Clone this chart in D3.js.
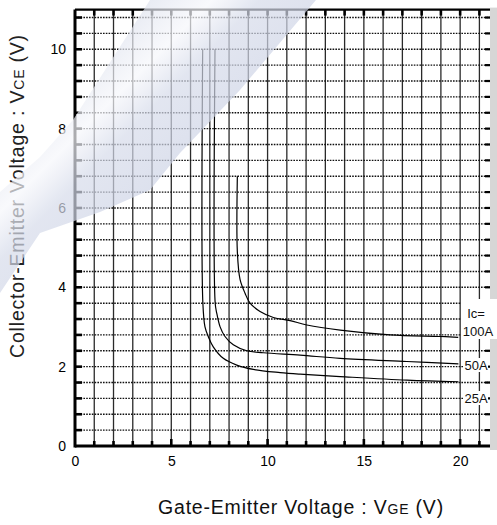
<!DOCTYPE html>
<html>
<head>
<meta charset="utf-8">
<script src="https://cdn.jsdelivr.net/npm/d3@7/dist/d3.min.js"></script>
<style>
  body { margin: 0; background: #fff; }
  svg { display: block; font-family: "Liberation Sans", Arial, sans-serif; }
</style>
</head>
<body>
<svg id="chart" width="497" height="525"></svg>
<script>
// Axis ticks (V)
const vgeTicks = [0, 5, 10, 15, 20];
const vceTicks = [0, 2, 4, 6, 8, 10];

// Collector current labels
const currentLabels = ["Ic=", "100A", "50A", "25A"];

// VCE vs VGE curves, points as [VGE, VCE]
const ic100 = [[8.43, 6.8], [8.43, 4.9], [8.57, 4.2], [8.83, 3.85], [9.09, 3.6], [9.61, 3.39],
  [10.3, 3.24], [11.17, 3.16], [12.04, 3.05], [13.77, 2.92], [16.36, 2.8], [18.96, 2.76], [19.9, 2.74]];
const ic50 = [[7.27, 10], [7.28, 3.6], [7.36, 3.35], [7.53, 3.01], [7.79, 2.76], [8.22, 2.55],
  [8.92, 2.4], [9.78, 2.35], [11.69, 2.29], [13.77, 2.21], [17.23, 2.13], [19.91, 2.07]];
const ic25 = [[6.63, 10], [6.64, 3.6], [6.75, 3.0], [6.92, 2.76], [7.18, 2.5], [7.7, 2.21],
  [8.4, 2.04], [9.26, 1.93], [10.65, 1.85], [11.69, 1.81], [13.77, 1.75], [17.23, 1.66], [19.91, 1.62]];

const svg = d3.select("#chart");
const x = d3.scaleLinear().domain([0, 21.55]).range([75, 490]);
const y = d3.scaleLinear().domain([0, 11]).range([446, 9.6]);

const vgeGrid = d3.range(1, 22);
const vceGrid = d3.range(1, 28).map(k => +(k * 0.4).toFixed(1));

// Grid
const grid = svg.append("g");
grid.selectAll("line.v").data(vgeGrid).join("line")
  .attr("x1", d => x(d)).attr("x2", d => x(d))
  .attr("y1", y(0)).attr("y2", y(11))
  .attr("stroke", "#2a2a2a").attr("stroke-width", 1.3);
grid.selectAll("line.h").data(vceGrid).join("line")
  .attr("x1", x(0)).attr("x2", x(21.55))
  .attr("y1", d => y(d)).attr("y2", d => y(d))
  .attr("stroke", "#111").attr("stroke-width", 1.4)
  .attr("stroke-dasharray", "1.6,1.2");

// Inward tick marks on all four sides
const tickG = svg.append("g").attr("stroke", "#000");
tickG.selectAll("line.l").data(vceGrid).join("line")
  .attr("x1", x(0)).attr("x2", x(0) + 7)
  .attr("y1", d => y(d)).attr("y2", d => y(d)).attr("stroke-width", 2.6);
tickG.selectAll("line.r").data(vceGrid).join("line")
  .attr("x1", x(21.55) - 5).attr("x2", x(21.55))
  .attr("y1", d => y(d)).attr("y2", d => y(d)).attr("stroke-width", 2.2);
tickG.selectAll("line.b").data(vgeGrid).join("line")
  .attr("x1", d => x(d)).attr("x2", d => x(d))
  .attr("y1", y(0)).attr("y2", d => y(0) - (d % 5 === 0 ? 7 : 5)).attr("stroke-width", 2.6);
tickG.selectAll("line.t").data(vgeGrid).join("line")
  .attr("x1", d => x(d)).attr("x2", d => x(d))
  .attr("y1", y(11)).attr("y2", y(11) + 6).attr("stroke-width", 2.6);

// Frame
svg.append("line").attr("x1", x(0)).attr("x2", x(0)).attr("y1", y(11)).attr("y2", y(0) + 1.5)
  .attr("stroke", "#000").attr("stroke-width", 3);
svg.append("line").attr("x1", x(0)).attr("x2", x(21.55)).attr("y1", y(0)).attr("y2", y(0))
  .attr("stroke", "#000").attr("stroke-width", 3);
svg.append("line").attr("x1", x(0)).attr("x2", x(21.55)).attr("y1", y(11)).attr("y2", y(11))
  .attr("stroke", "#000").attr("stroke-width", 2.2);
svg.append("rect").attr("x", x(21.55)).attr("y", y(11) - 2).attr("width", 8).attr("height", y(0) - y(11) + 6)
  .attr("fill", "#d6d6d6");

// Label backgrounds for the Ic legend
const labelY = [313, 331, 365, 398];
svg.append("rect").attr("x", 461).attr("y", 299).attr("width", 36).attr("height", 40).attr("fill", "#fff");
svg.selectAll("rect.lb").data(currentLabels.slice(2)).join("rect")
  .attr("x", 463).attr("y", (d, i) => labelY[i + 2] - 7).attr("width", 25).attr("height", 14).attr("fill", "#fff");

// Curves
const line = d3.line().x(d => x(d[0])).y(d => y(d[1])).curve(d3.curveCatmullRom.alpha(0.5));
svg.append("g").selectAll("path").data([ic100, ic50, ic25]).join("path")
  .attr("d", line).attr("fill", "none").attr("stroke", "#000").attr("stroke-width", 1.2);

// Ic labels
svg.append("g").attr("font-size", 13).attr("fill", "#111")
  .selectAll("text").data(currentLabels).join("text")
  .attr("x", (d, i) => i === 1 ? 478 : 476).attr("y", (d, i) => labelY[i])
  .attr("text-anchor", "middle").attr("dominant-baseline", "central")
  .text(d => d);

// Tick labels
const yAxis = svg.append("g").attr("transform", `translate(${x(0)},0)`)
  .call(d3.axisLeft(y).tickValues(vceTicks).tickSize(0).tickPadding(9).tickFormat(d3.format("d")));
const xAxis = svg.append("g").attr("transform", `translate(0,${y(0)})`)
  .call(d3.axisBottom(x).tickValues(vgeTicks).tickSize(0).tickPadding(10).tickFormat(d3.format("d")));
[yAxis, xAxis].forEach(a => {
  a.select(".domain").remove();
  a.selectAll("text").attr("font-size", 14).attr("fill", "#000")
    .attr("font-family", "\"Liberation Sans\", Arial, sans-serif");
});

// Axis titles
const xt = svg.append("text").attr("x", 301).attr("y", 514).attr("text-anchor", "middle")
  .attr("font-size", 19.5).attr("letter-spacing", 0.8).attr("fill", "#111");
xt.append("tspan").text("Gate-Emitter Voltage : V");
xt.append("tspan").attr("font-size", 14).text("GE");
xt.append("tspan").text(" (V)");

const yt = svg.append("text").attr("transform", "translate(24,196) rotate(-90)")
  .attr("text-anchor", "middle").attr("font-size", 19.5).attr("letter-spacing", 0.8).attr("fill", "#222");
yt.append("tspan").text("Collector-Emitter Voltage : V");
yt.append("tspan").attr("font-size", 14).text("CE");
yt.append("tspan").text(" (V)");

// Light diagonal sheen across the upper left
const defs = svg.append("defs");
const grad = defs.append("linearGradient").attr("id", "sheenGrad")
  .attr("gradientUnits", "userSpaceOnUse").attr("x1", 60).attr("y1", 60).attr("x2", 200).attr("y2", 200);
grad.append("stop").attr("offset", 0.1).attr("stop-color", "#dfe3ee");
grad.append("stop").attr("offset", 0.33).attr("stop-color", "#f6f7fb");
grad.append("stop").attr("offset", 0.5).attr("stop-color", "#d6dbea");
grad.append("stop").attr("offset", 1).attr("stop-color", "#c8cfe3");
svg.append("path")
  .attr("d", "M150,0 L316,0 L240,90 L180,153 L150,190 L100,212 L40,233 L0,293 L0,192 L40,157 L73,120 Z")
  .attr("fill", "url(#sheenGrad)").attr("opacity", 0.7).attr("pointer-events", "none");
</script>
</body>
</html>
